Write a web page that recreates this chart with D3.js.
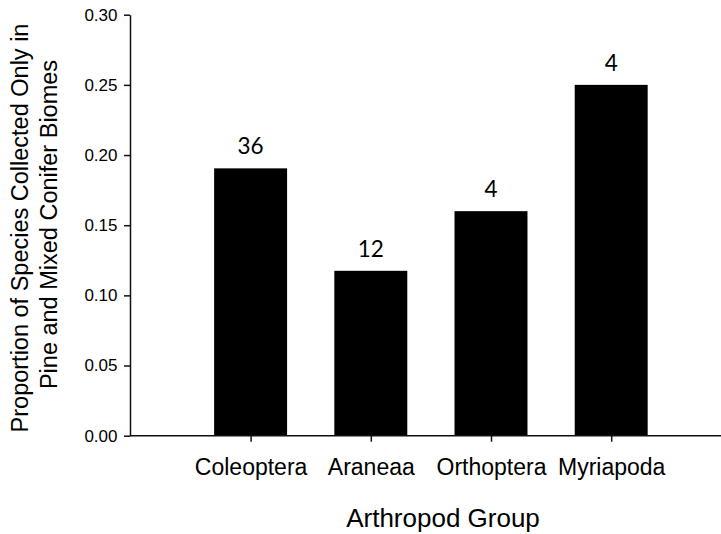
<!DOCTYPE html>
<html>
<head>
<meta charset="utf-8">
<script src="https://cdn.jsdelivr.net/npm/d3@7"></script>
<style>
  html, body { margin: 0; padding: 0; background: #fff; }
  svg { display: block; }
</style>
</head>
<body>
<svg id="chart" width="721" height="534"></svg>
<script>
// Arthropod groups and the share of species found only in pine / mixed conifer biomes
const groups = ["Coleoptera", "Araneaa", "Orthoptera", "Myriapoda"];
const proportions = [0.1905, 0.1175, 0.16, 0.25];
const speciesCounts = ["36", "12", "4", "4"];
const yTicks = [0, 0.05, 0.10, 0.15, 0.20, 0.25, 0.30];

const svg = d3.select("#chart");
const axisX = 130, axisBottomY = 435.7, axisTopY = 14.7;

const y = d3.scaleLinear().domain([0, 0.30]).range([axisBottomY, axisTopY]);
const x = d3.scaleBand()
  .domain(groups)
  .range([190.5, 671.3])
  .paddingInner(0.393)
  .paddingOuter(0.1965);

// bars
svg.append("g").selectAll("rect")
  .data(groups)
  .join("rect")
  .attr("x", d => x(d))
  .attr("width", x.bandwidth())
  .attr("y", (d, i) => y(proportions[i]))
  .attr("height", (d, i) => y(0) - y(proportions[i]))
  .attr("fill", "#000");

// count labels above bars
svg.append("g").selectAll("text")
  .data(groups)
  .join("text")
  .attr("x", d => x(d) + x.bandwidth() / 2)
  .attr("y", (d, i) => y(proportions[i]) - 14)
  .attr("text-anchor", "middle")
  .attr("font-family", "Lato, 'Open Sans', sans-serif")
  .attr("font-size", 22.5)
  .attr("fill", "#000")
  .text((d, i) => speciesCounts[i]);

// y axis
const yAxis = svg.append("g")
  .attr("transform", `translate(${axisX},0)`)
  .call(d3.axisLeft(y).tickValues(yTicks).tickFormat(d3.format(".2f")).tickSize(6).tickSizeOuter(0));
yAxis.select(".domain").attr("stroke", "#111").attr("stroke-width", 1.5);
yAxis.selectAll(".tick line").attr("stroke", "#111").attr("stroke-width", 1.5);
yAxis.selectAll(".tick text")
  .attr("x", -12.5)
  .attr("font-family", "'Liberation Sans', Arial, sans-serif")
  .attr("font-size", 17)
  .attr("fill", "#000");

// x axis
const xTicksScale = d3.scalePoint().domain(groups)
  .range([x(groups[0]) + x.bandwidth() / 2, x(groups[groups.length - 1]) + x.bandwidth() / 2]);
const xAxis = svg.append("g")
  .attr("transform", `translate(0,${axisBottomY})`)
  .call(d3.axisBottom(xTicksScale).tickSize(6).tickSizeOuter(0));
xAxis.select(".domain").attr("d", `M${axisX},0H721`).attr("stroke", "#111").attr("stroke-width", 1.5);
xAxis.selectAll(".tick line").attr("stroke", "#111").attr("stroke-width", 1.5);
xAxis.selectAll(".tick text")
  .attr("y", 39.3)
  .attr("dy", null)
  .attr("font-family", "'Liberation Sans', Arial, sans-serif")
  .attr("font-size", 23)
  .attr("fill", "#000");

// axis titles
svg.append("text")
  .attr("x", 443)
  .attr("y", 526.5)
  .attr("text-anchor", "middle")
  .attr("font-family", "'Liberation Sans', Arial, sans-serif")
  .attr("font-size", 26)
  .attr("fill", "#000")
  .text("Arthropod Group");

const yTitle = svg.append("text")
  .attr("transform", "rotate(-90)")
  .attr("text-anchor", "middle")
  .attr("font-family", "'Liberation Sans', Arial, sans-serif")
  .attr("font-size", 23.5)
  .attr("fill", "#000");
yTitle.append("tspan").attr("x", -228).attr("y", 28.3).text("Proportion of Species Collected Only in");
yTitle.append("tspan").attr("x", -224.5).attr("y", 56.7).text("Pine and Mixed Conifer Biomes");
</script>
</body>
</html>
